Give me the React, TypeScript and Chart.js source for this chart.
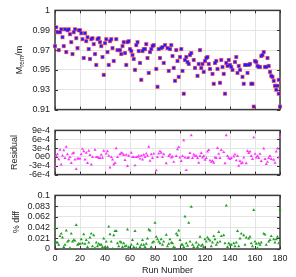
import React, { useEffect, useRef } from "react";
import { Chart, registerables } from "chart.js";

Chart.register(...registerables);

const FONT = "'Liberation Sans', Arial, Helvetica, sans-serif";

// ---------- data ----------
const xTickValues = [0, 20, 40, 60, 80, 100, 120, 140, 160, 180];

const topTickValues = [0.91, 0.93, 0.95, 0.97, 0.99, 1.01];
const topTickLabels = ["0.91", "0.93", "0.95", "0.97", "0.99", "1"];

const resTickValues = [-6e-4, -3e-4, 0, 3e-4, 6e-4, 9e-4];
const resTickLabels = ["-6e-4", "-3e-4", "0e0", "3e-4", "6e-4", "9e-4"];

const diffTickValues = [0, 0.0208, 0.0416, 0.0624, 0.0832, 0.104];
const diffTickLabels = ["0", "0.021", "0.042", "0.062", "0.083", "0.1"];

const topRuns = [
  0, 1, 2, 3, 4, 5, 6, 7, 8, 9, 10, 11, 12, 13, 14, 15, 16, 17, 18, 19,
  20, 21, 22, 23, 24, 25, 26, 27, 28, 29, 30, 31, 32, 33, 34, 35, 36, 37, 38, 39,
  40, 41, 42, 43, 44, 45, 46, 47, 49, 50, 52, 53, 54, 55, 56, 57, 58, 59, 60, 61,
  62, 63, 64, 65, 66, 67, 68, 69, 70, 71, 72, 73, 74, 75, 76, 77, 78, 79, 81, 82,
  83, 84, 85, 86, 87, 88, 90, 91, 92, 93, 94, 95, 96, 97, 98, 99, 100, 101, 102, 103,
  104, 105, 106, 107, 108, 109, 111, 112, 114, 115, 116, 117, 118, 119, 120, 121, 122, 123, 124, 126,
  127, 128, 129, 130, 132, 133, 134, 135, 136, 137, 138, 139, 140, 141, 142, 144, 145, 146, 147, 148,
  150, 151, 152, 153, 154, 155, 156, 157, 158, 159, 160, 161, 162, 163, 164, 165, 166, 167, 168, 169,
  170, 171, 172, 173, 174, 175, 176, 177, 178, 179, 179, 180,
];
const topValues = [
  0.974, 0.993, 0.988, 0.970, 0.988, 0.991, 0.983, 0.974, 0.991, 0.968, 0.990, 0.991, 0.986, 0.978, 0.966, 0.988, 0.991, 0.982, 0.972, 0.990,
  0.990, 0.987, 0.981, 0.962, 0.987, 0.979, 0.983, 0.971, 0.961, 0.981, 0.982, 0.976, 0.966, 0.955, 0.981, 0.982, 0.978, 0.974, 0.963, 0.945,
  0.977, 0.981, 0.968, 0.955, 0.979, 0.981, 0.972, 0.959, 0.981, 0.970, 0.970, 0.966, 0.974, 0.978, 0.967, 0.955, 0.978, 0.979, 0.971, 0.969,
  0.965, 0.961, 0.950, 0.975, 0.978, 0.969, 0.957, 0.940, 0.969, 0.971, 0.971, 0.976, 0.962, 0.947, 0.968, 0.971, 0.974, 0.975, 0.951, 0.933,
  0.971, 0.962, 0.972, 0.973, 0.957, 0.975, 0.972, 0.949, 0.971, 0.975, 0.964, 0.952, 0.939, 0.970, 0.959, 0.943, 0.963, 0.971, 0.949, 0.926,
  0.960, 0.963, 0.958, 0.956, 0.965, 0.967, 0.960, 0.952, 0.944, 0.956, 0.970, 0.952, 0.956, 0.948, 0.959, 0.962, 0.963, 0.956, 0.951, 0.946,
  0.936, 0.957, 0.959, 0.951, 0.937, 0.960, 0.953, 0.946, 0.926, 0.957, 0.954, 0.960, 0.955, 0.953, 0.950, 0.958, 0.963, 0.947, 0.954, 0.950,
  0.943, 0.936, 0.955, 0.955, 0.947, 0.955, 0.956, 0.936, 0.936, 0.913, 0.959, 0.958, 0.954, 0.953, 0.953, 0.964, 0.965, 0.968, 0.953, 0.953,
  0.962, 0.954, 0.948, 0.944, 0.943, 0.939, 0.934, 0.930, 0.934, 0.940, 0.926, 0.913,
];

const resRuns = [
  0, 1, 2, 3, 4, 5, 6, 7, 8, 9, 10, 11, 12, 13, 14, 15, 16, 17, 18, 19,
  20, 21, 22, 23, 24, 25, 26, 27, 28, 29, 30, 32, 33, 34, 35, 36, 37, 38, 39, 41,
  42, 43, 44, 45, 46, 47, 48, 49, 50, 52, 53, 54, 55, 56, 57, 58, 59, 61, 62, 63,
  64, 65, 66, 67, 68, 69, 70, 71, 72, 73, 74, 75, 76, 77, 78, 79, 81, 82, 83, 84,
  85, 86, 87, 89, 91, 92, 93, 94, 95, 97, 98, 99, 100, 101, 102, 103, 104, 105, 106, 107,
  108, 109, 110, 111, 112, 113, 114, 115, 116, 117, 118, 119, 120, 121, 122, 123, 124, 125, 126, 127,
  128, 129, 130, 131, 132, 133, 135, 136, 137, 138, 139, 140, 141, 143, 144, 145, 146, 147, 148, 149,
  150, 151, 153, 154, 155, 156, 157, 158, 159, 160, 161, 162, 163, 164, 165, 167, 168, 169, 170, 171,
  172, 173, 175, 176, 177, 178, 179, 180,
];
const resValues = [
  -3.4e-4, 0.2e-4, 0.9e-4, -0.8e-4, 2.4e-4, -2.6e-4, 0.4e-4, 2.2e-4, -0.4e-4, 3.4e-4, 0.9e-4, -0.8e-4, -0.1e-4, -2.1e-4, 1.1e-4, 1.4e-4, -0.9e-4, -4.1e-4, -0.6e-4, -0.6e-4,
  -0.6e-4, 0.9e-4, 2.7e-4, 1.9e-4, -0.9e-4, 1.4e-4, -2.1e-4, 2.1e-4, 0.6e-4, -2.6e-4, -0.1e-4, 2.4e-4, -0.1e-4, -0.1e-4, -0.4e-4, -0.4e-4, 0.7e-4, -0.3e-4, 2.1e-4, 1.1e-4,
  1.9e-4, 0.4e-4, -3.6e-4, -0.1e-4, -0.9e-4, -2.6e-4, -2.1e-4, 2.9e-4, -0.1e-4, 0.9e-4, 1.4e-4, 1.1e-4, 0.6e-4, -1.1e-4, 0.7e-4, -3.1e-4, 0.4e-4, 1.4e-4, -0.1e-4, -0.1e-4,
  -2.9e-4, -0.1e-4, -0.1e-4, 0.4e-4, -0.6e-4, 0.4e-4, -0.9e-4, 0.7e-4, -0.1e-4, 1.1e-4, 0.4e-4, 3.4e-4, -1.3e-4, 0.9e-4, -0.4e-4, 1.1e-4, -4.6e-4, -0.1e-4, 1.1e-4, 1.9e-4,
  1.4e-4, -0.1e-4, 0.9e-4, -2.2e-4, 0.3e-4, 0.8e-4, -0.2e-4, 0.0, -1.7e-4, 0.3e-4, 2.6e-4, 3.3e-4, -0.2e-4, -1.4e-4, 0.3e-4, 5.6e-4, -0.2e-4, -4.5e-4, -0.4e-4, -0.2e-4,
  1.3e-4, 7.3e-4, -0.4e-4, 0.8e-4, 0.3e-4, 0.3e-4, -0.4e-4, -2.0e-4, 0.3e-4, 1.3e-4, -0.2e-4, 0.3e-4, -1.0e-4, -0.4e-4, 1.8e-4, 2.3e-4, -1.2e-4, -1.7e-4, -1.4e-4, -2.0e-4,
  -0.2e-4, -0.4e-4, 3.0e-4, 1.0e-4, -0.4e-4, 2.3e-4, 1.6e-4, -2.2e-4, 7.3e-4, 0.3e-4, -0.4e-4, -0.7e-4, -0.4e-4, 0.1e-4, 0.8e-4, -1.2e-4, 0.3e-4, -3.0e-4, -1.4e-4, -2.2e-4,
  -2.0e-4, -0.2e-4, -2.2e-4, 2.0e-4, 1.3e-4, 1.8e-4, 0.3e-4, -0.7e-4, 6.6e-4, 1.0e-4, -0.2e-4, 0.3e-4, -0.4e-4, 1.0e-4, -1.4e-4, 2.8e-4, -0.7e-4, -2.4e-4, -1.7e-4, -0.4e-4,
  0.3e-4, -0.7e-4, -1.0e-4, -2.0e-4, 1.8e-4, 2.8e-4, -0.2e-4, 6.6e-4,
];

const diffRuns = [
  0, 1, 2, 3, 4, 5, 6, 7, 8, 9, 10, 11, 12, 13, 14, 15, 16, 17, 18, 19,
  20, 21, 22, 23, 24, 25, 26, 27, 28, 29, 30, 31, 32, 33, 34, 35, 36, 37, 38, 39,
  40, 41, 42, 43, 44, 45, 46, 47, 48, 49, 50, 51, 52, 53, 54, 55, 56, 57, 58, 59,
  61, 62, 63, 64, 65, 66, 68, 69, 70, 71, 72, 73, 74, 75, 76, 77, 78, 79, 80, 81,
  82, 83, 84, 85, 86, 87, 89, 90, 91, 92, 93, 94, 95, 96, 97, 98, 99, 100, 101, 102,
  103, 104, 105, 106, 107, 108, 109, 110, 111, 113, 114, 115, 116, 117, 118, 119, 120, 121, 122, 123,
  124, 125, 126, 127, 128, 129, 130, 131, 132, 133, 135, 136, 137, 138, 139, 140, 141, 143, 144, 145,
  146, 147, 148, 149, 151, 152, 153, 155, 156, 157, 158, 159, 160, 161, 162, 163, 164, 165, 167, 168,
  169, 171, 172, 173, 175, 176, 177, 178, 179, 180,
];
const diffValues = [
  0.0402, 0.0124, 0.0124, 0.0080, 0.0248, 0.0297, 0.0223, 0.0037, 0.0080, 0.0359, 0.0142, 0.0161, 0.0019, 0.0297, 0.0142, 0.0173, 0.0161, 0.0464, 0.0080, 0.0099,
  0.0099, 0.0186, 0.0111, 0.0285, 0.0099, 0.0173, 0.0037, 0.0124, 0.0223, 0.0297, 0.0050, 0.0266, 0.0019, 0.0124, 0.0050, 0.0099, 0.0080, 0.0080, 0.0037, 0.0204,
  0.0037, 0.0142, 0.0037, 0.0433, 0.0285, 0.0142, 0.0004, 0.0266, 0.0347, 0.0347, 0.0111, 0.0050, 0.0142, 0.0124, 0.0037, 0.0111, 0.0050, 0.0062, 0.0378, 0.0037,
  0.0080, 0.0173, 0.0037, 0.0347, 0.0019, 0.0099, 0.0037, 0.0080, 0.0173, 0.0080, 0.0037, 0.0099, 0.0204, 0.0378, 0.0359, 0.0037, 0.0124, 0.0142, 0.0508, 0.0235,
  0.0186, 0.0142, 0.0111, 0.0186, 0.0080, 0.0142, 0.0275, 0.0050, 0.0099, 0.0186, 0.0124, 0.0111, 0.0037, 0.0019, 0.0297, 0.0266, 0.0359, 0.0173, 0.0080, 0.0080,
  0.0037, 0.0631, 0.0111, 0.0062, 0.0508, 0.0142, 0.0817, 0.0080, 0.0037, 0.0124, 0.0037, 0.0080, 0.0235, 0.0062, 0.0080, 0.0037, 0.0186, 0.0142, 0.0223, 0.0186,
  0.0161, 0.0050, 0.0124, 0.0248, 0.0186, 0.0080, 0.0124, 0.0328, 0.0142, 0.0248, 0.0266, 0.0111, 0.0842, 0.0037, 0.0111, 0.0080, 0.0080, 0.0111, 0.0050, 0.0124,
  0.0347, 0.0050, 0.0204, 0.0297, 0.0266, 0.0080, 0.0223, 0.0204, 0.0235, 0.0111, 0.0050, 0.0755, 0.0142, 0.0099, 0.0019, 0.0111, 0.0080, 0.0124, 0.0297, 0.0279,
  0.0080, 0.0142, 0.0173, 0.0248, 0.0186, 0.0124, 0.0186, 0.0235, 0.0111, 0.0770,
];

// ---------- helpers ----------
const pts = (xs: number[], ys: number[]) => xs.map((x, i) => ({ x, y: ys[i] }));

const framePlugin = {
  id: "gnuFrame",
  beforeDatasetsDraw(chart: any) {
    const { ctx, chartArea: a, scales } = chart;
    ctx.save();
    ctx.strokeStyle = "#333";
    ctx.lineWidth = 1;
    ctx.beginPath();
    const tl = 3;
    scales.x.ticks.forEach((t: any) => {
      const px = Math.round(scales.x.getPixelForValue(t.value)) + 0.5;
      ctx.moveTo(px, a.top);
      ctx.lineTo(px, a.top + tl);
      ctx.moveTo(px, a.bottom);
      ctx.lineTo(px, a.bottom - tl);
    });
    scales.y.ticks.forEach((t: any) => {
      const py = Math.round(scales.y.getPixelForValue(t.value)) + 0.5;
      ctx.moveTo(a.left, py);
      ctx.lineTo(a.left + tl, py);
      ctx.moveTo(a.right, py);
      ctx.lineTo(a.right - tl, py);
    });
    ctx.stroke();
    ctx.lineWidth = 1.5;
    ctx.strokeStyle = "#3a3a3a";
    ctx.strokeRect(a.left, a.top, a.right - a.left, a.bottom - a.top);
    ctx.restore();
  },
};

const mremTitlePlugin = {
  id: "mremTitle",
  afterDraw(chart: any) {
    const { ctx, chartArea: a } = chart;
    const cy = (a.top + a.bottom) / 2;
    const main = "9px " + FONT;
    const sub = "6.5px " + FONT;
    ctx.save();
    ctx.fillStyle = "#222";
    ctx.textBaseline = "middle";
    ctx.textAlign = "left";
    ctx.font = main;
    const wM = ctx.measureText("M").width;
    const wS = ctx.measureText("/m").width;
    ctx.font = sub;
    const wR = ctx.measureText("rem").width;
    const total = wM + wR + wS;
    ctx.translate(20, cy);
    ctx.rotate(-Math.PI / 2);
    let x = -total / 2;
    ctx.font = main;
    ctx.fillText("M", x, 0);
    x += wM;
    ctx.font = sub;
    ctx.fillText("rem", x, 2.5);
    x += wR;
    ctx.font = main;
    ctx.fillText("/m", x, 0);
    ctx.restore();
  },
};

function makeConfig(p: {
  datasets: any[];
  yMin: number;
  yMax: number;
  yTicks: number[];
  yLabels: string[];
  showX: boolean;
  padTop: number;
  xHeight: number;
  yTitle?: string;
  yTitlePad?: number;
  plugins: any[];
}) {
  return {
    type: "scatter",
    data: { datasets: p.datasets },
    plugins: p.plugins,
    options: {
      animation: false,
      responsive: false,
      devicePixelRatio: 1,
      events: [],
      layout: { padding: { left: 0, right: 16, top: p.padTop, bottom: 0 } },
      plugins: { legend: { display: false }, tooltip: { enabled: false } },
      scales: {
        x: {
          type: "linear",
          min: 0,
          max: 180,
          afterBuildTicks: (s: any) => {
            s.ticks = xTickValues.map((v) => ({ value: v }));
          },
          afterFit: (s: any) => {
            s.height = p.xHeight;
          },
          grid: { color: "#e4e4e4", lineWidth: 1, drawTicks: false },
          border: { display: false },
          ticks: {
            display: p.showX,
            padding: 4,
            color: "#222",
            font: { size: 9, family: FONT },
            maxRotation: 0,
            autoSkip: false,
            callback: (v: any) => String(v),
          },
          title: {
            display: p.showX,
            text: "Run Number",
            color: "#222",
            font: { size: 9, family: FONT },
            padding: { top: 0, bottom: 1 },
          },
        },
        y: {
          type: "linear",
          min: p.yMin,
          max: p.yMax,
          afterBuildTicks: (s: any) => {
            s.ticks = p.yTicks.map((v) => ({ value: v }));
          },
          afterFit: (s: any) => {
            s.width = 55;
          },
          grid: { color: "#e4e4e4", lineWidth: 1, drawTicks: false },
          border: { display: false },
          ticks: {
            padding: 5,
            color: "#222",
            font: { size: 9, family: FONT },
            autoSkip: false,
            callback: (_v: any, i: number) => p.yLabels[i],
          },
          title: {
            display: !!p.yTitle,
            text: p.yTitle || "",
            color: "#222",
            font: { size: 9, family: FONT },
            padding: { top: p.yTitlePad || 0, bottom: 0 },
          },
        },
      },
    },
  } as any;
}

export default function App() {
  const c1 = useRef<HTMLCanvasElement>(null);
  const c2 = useRef<HTMLCanvasElement>(null);
  const c3 = useRef<HTMLCanvasElement>(null);

  useEffect(() => {
    document.body.style.margin = "0";
    const topData = pts(topRuns, topValues);
    const charts = [
      new Chart(
        c1.current as HTMLCanvasElement,
        makeConfig({
          datasets: [
            {
              label: "blue",
              data: topData,
              pointStyle: "rect",
              pointRadius: 1.9,
              backgroundColor: "#1f1fff",
              borderWidth: 0,
              clip: false,
            },
            {
              label: "red",
              data: topData,
              pointStyle: "rect",
              pointRadius: 2.9,
              backgroundColor: "rgba(255,70,70,0.85)",
              borderWidth: 0,
              clip: false,
            },
          ],
          yMin: 0.91,
          yMax: 1.01,
          yTicks: topTickValues,
          yLabels: topTickLabels,
          showX: false,
          padTop: 10,
          xHeight: 6,
          plugins: [framePlugin, mremTitlePlugin],
        })
      ),
      new Chart(
        c2.current as HTMLCanvasElement,
        makeConfig({
          datasets: [
            {
              label: "residual",
              data: pts(resRuns, resValues),
              pointStyle: "triangle",
              pointRadius: 1.8,
              backgroundColor: "#ff33ff",
              borderColor: "#ff33ff",
              borderWidth: 0,
              clip: false,
            },
          ],
          yMin: -6e-4,
          yMax: 9e-4,
          yTicks: resTickValues,
          yLabels: resTickLabels,
          showX: false,
          padTop: 9,
          xHeight: 6,
          yTitle: "Residual",
          yTitlePad: 9,
          plugins: [framePlugin],
        })
      ),
      new Chart(
        c3.current as HTMLCanvasElement,
        makeConfig({
          datasets: [
            {
              label: "% diff",
              data: pts(diffRuns, diffValues),
              pointStyle: "triangle",
              pointRadius: 1.8,
              backgroundColor: "#1f9f1f",
              borderColor: "#1f9f1f",
              borderWidth: 0,
              clip: false,
            },
          ],
          yMin: 0,
          yMax: 0.104,
          yTicks: diffTickValues,
          yLabels: diffTickLabels,
          showX: true,
          padTop: 8,
          xHeight: 28,
          yTitle: "% diff",
          yTitlePad: 11.5,
          plugins: [framePlugin],
        })
      ),
    ];
    return () => charts.forEach((c) => c.destroy());
  }, []);

  return (
    <div style={{ position: "relative", width: 296, height: 277, background: "#fff" }}>
      <canvas ref={c1} width={296} height={120} style={{ position: "absolute", left: 0, top: 0 }} />
      <canvas ref={c2} width={296} height={65} style={{ position: "absolute", left: 0, top: 120 }} />
      <canvas ref={c3} width={296} height={92} style={{ position: "absolute", left: 0, top: 185 }} />
    </div>
  );
}
